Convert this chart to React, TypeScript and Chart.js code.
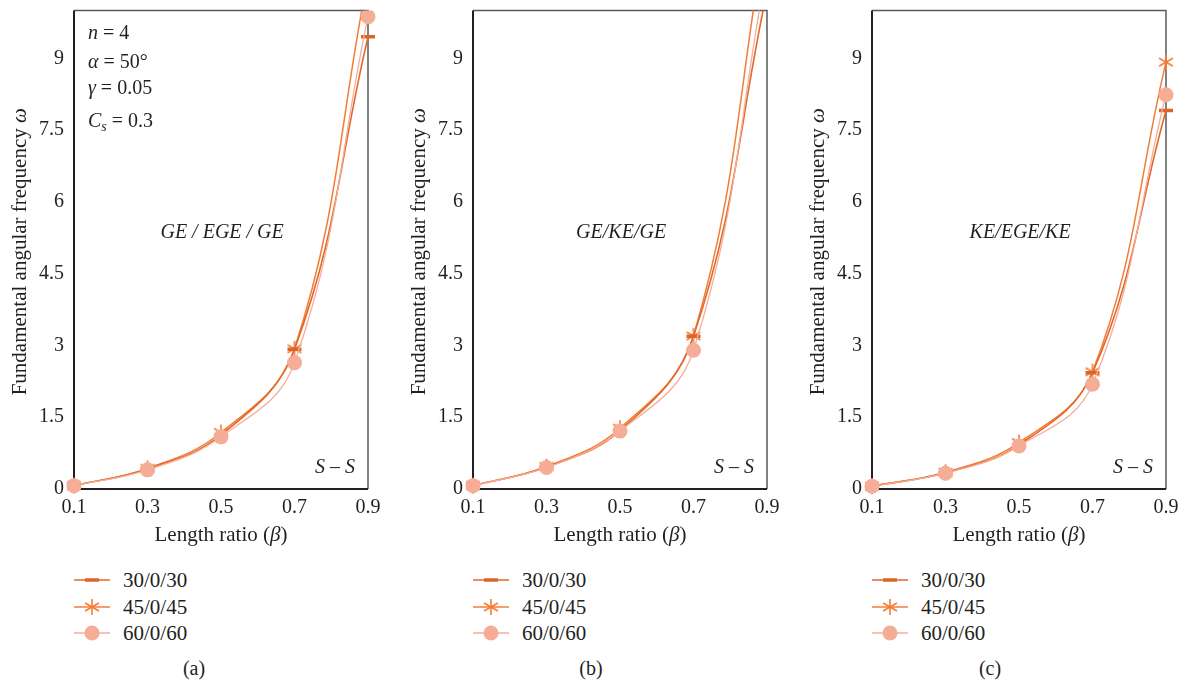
import React, { useEffect, useRef } from 'react';
import { Chart, registerables } from 'chart.js';

Chart.register(...registerables);

// ---------- data ----------
const betaValues = [0.1, 0.3, 0.5, 0.7, 0.9];
const xTicks = [0.1, 0.3, 0.5, 0.7, 0.9];
const yTicks = [0, 1.5, 3, 4.5, 6, 7.5, 9];
const seriesLabels = ['30/0/30', '45/0/45', '60/0/60'];

const a30 = [0.07, 0.42, 1.13, 2.92, 9.45];
const a45 = [0.07, 0.43, 1.18, 2.93, 10.7];
const a60 = [0.07, 0.4, 1.09, 2.64, 9.87];

const b30 = [0.07, 0.46, 1.22, 3.19, 10.4];
const b45 = [0.07, 0.47, 1.27, 3.2, 11.8];
const b60 = [0.07, 0.45, 1.21, 2.9, 10.9];

const c30 = [0.06, 0.34, 0.92, 2.43, 7.91];
const c45 = [0.06, 0.35, 0.97, 2.45, 8.92];
const c60 = [0.06, 0.33, 0.9, 2.19, 8.24];

const panelSeries = [
  [a30, a45, a60],
  [b30, b45, b60],
  [c30, c45, c60],
];
const panelMaterials = ['GE / EGE / GE', 'GE/KE/GE', 'KE/EGE/KE'];
const panelCaptions = ['(a)', '(b)', '(c)'];
const boundaryLabel = 'S – S';
// titles as runs: [text, italic, subscript]
const xTitleRuns: [string, boolean, boolean][] = [['Length ratio (', false, false], ['β', true, false], [')', false, false]];
const yTitleRuns: [string, boolean, boolean][] = [['Fundamental angular frequency ', false, false], ['ω', true, false]];
const paramLines: [string, boolean, boolean][][] = [
  [['n', true, false], [' = 4', false, false]],
  [['α', true, false], [' = 50°', false, false]],
  [['γ', true, false], [' = 0.05', false, false]],
  [['C', true, false], ['s', true, true], [' = 0.3', false, false]],
];

// ---------- styles ----------
const FONT = '"Liberation Serif", "Times New Roman", serif';
const TEXT = '#231f20';
const COLORS = ['#E2692B', '#F47C35', '#F6AD97'];
const DASH_COLOR = '#DD6427';
const PANEL_LEFT = [0, 399, 798];
const CANVAS_W = 388;
const CANVAS_H = 560;
const AXIS_W = 74;
const TICK_FS = 20;
const TITLE_FS = 21;
const NOTE_FS = 20;

function makeAsterisk(color: string) {
  const c = document.createElement('canvas');
  c.width = 18;
  c.height = 18;
  const g = c.getContext('2d')!;
  g.strokeStyle = color;
  g.lineWidth = 1.6;
  const r = 8;
  [90, 30, 150].forEach((deg) => {
    const a = (deg * Math.PI) / 180;
    g.beginPath();
    g.moveTo(9 - r * Math.cos(a), 9 - r * Math.sin(a));
    g.lineTo(9 + r * Math.cos(a), 9 + r * Math.sin(a));
    g.stroke();
  });
  return c;
}

function runsWidth(ctx: CanvasRenderingContext2D, runs: [string, boolean, boolean][], size: number) {
  let w = 0;
  runs.forEach(([t, it, sub]) => {
    const s = sub ? size * 0.7 : size;
    ctx.font = `${it ? 'italic ' : ''}${s}px ${FONT}`;
    w += ctx.measureText(t).width;
  });
  return w;
}

function drawRuns(ctx: CanvasRenderingContext2D, runs: [string, boolean, boolean][], x: number, y: number, size: number) {
  let cx = x;
  ctx.textBaseline = 'middle';
  ctx.textAlign = 'left';
  runs.forEach(([t, it, sub]) => {
    const s = sub ? size * 0.7 : size;
    ctx.font = `${it ? 'italic ' : ''}${s}px ${FONT}`;
    ctx.fillText(t, cx, sub ? y + size * 0.3 : y);
    cx += ctx.measureText(t).width;
  });
}

const framePlugin = {
  id: 'frame',
  beforeDatasetsDraw(chart: any) {
    const { ctx, chartArea: a } = chart;
    ctx.save();
    ctx.strokeStyle = '#5a5a5a';
    ctx.lineWidth = 1.5;
    ctx.beginPath();
    ctx.moveTo(a.left, a.top);
    ctx.lineTo(a.right, a.top);
    ctx.lineTo(a.right, a.bottom);
    ctx.stroke();
    ctx.strokeStyle = TEXT;
    ctx.lineWidth = 2;
    ctx.beginPath();
    ctx.moveTo(a.left, a.top);
    ctx.lineTo(a.left, a.bottom);
    ctx.lineTo(a.right, a.bottom);
    ctx.stroke();
    ctx.restore();
  },
};

function makeTextPlugin(idx: number) {
  return {
    id: 'panelText' + idx,
    afterDatasetsDraw(chart: any) {
      const { ctx, chartArea: a } = chart;
      const xs = chart.scales.x;
      const ys = chart.scales.y;
      ctx.save();
      ctx.fillStyle = TEXT;
      // axis titles
      const xw = runsWidth(ctx, xTitleRuns, TITLE_FS);
      drawRuns(ctx, xTitleRuns, (a.left + a.right) / 2 - xw / 2, 535, TITLE_FS);
      const yw = runsWidth(ctx, yTitleRuns, TITLE_FS);
      ctx.save();
      ctx.translate(20, (a.top + a.bottom) / 2 + 2);
      ctx.rotate(-Math.PI / 2);
      drawRuns(ctx, yTitleRuns, -yw / 2, 0, TITLE_FS);
      ctx.restore();
      // in-plot notes
      ctx.font = `italic ${NOTE_FS}px ${FONT}`;
      ctx.textAlign = 'center';
      ctx.textBaseline = 'middle';
      ctx.fillText(panelMaterials[idx], xs.getPixelForValue(0.503), ys.getPixelForValue(5.36));
      ctx.fillText(boundaryLabel, xs.getPixelForValue(0.81), ys.getPixelForValue(0.44));
      if (idx === 0) {
        const yv = [9.52, 8.91, 8.37, 7.68];
        paramLines.forEach((runs, i) => {
          drawRuns(ctx, runs, xs.getPixelForValue(0.138), ys.getPixelForValue(yv[i]), NOTE_FS);
        });
      }
      ctx.restore();
    },
  };
}

function Panel({ idx }: { idx: number }) {
  const ref = useRef<HTMLCanvasElement | null>(null);
  useEffect(() => {
    const canvas = ref.current!;
    const asterisk = makeAsterisk(COLORS[1]);
    const vals = panelSeries[idx];
    const clip = { left: 14, right: 14, top: 0, bottom: 14 };
    const pts = (arr: number[]) => betaValues.map((x, i) => ({ x, y: arr[i] }));
    const chart = new Chart(canvas, {
      type: 'line',
      data: {
        datasets: [
          {
            label: seriesLabels[0],
            data: pts(vals[0]),
            borderColor: COLORS[0],
            backgroundColor: COLORS[0],
            borderWidth: 1.6,
            pointStyle: 'line',
            pointRadius: 7,
            pointBorderWidth: 3.5,
            pointBorderColor: DASH_COLOR,
            pointBackgroundColor: DASH_COLOR,
            tension: 0.4,
            clip,
            order: 1,
          },
          {
            label: seriesLabels[1],
            data: pts(vals[1]),
            borderColor: COLORS[1],
            backgroundColor: COLORS[1],
            borderWidth: 1.5,
            pointStyle: asterisk as any,
            pointRadius: 8,
            tension: 0.4,
            clip,
            order: 2,
          },
          {
            label: seriesLabels[2],
            data: pts(vals[2]),
            borderColor: COLORS[2],
            backgroundColor: COLORS[2],
            borderWidth: 1.3,
            pointStyle: 'circle',
            pointRadius: 7.5,
            pointBorderWidth: 0,
            pointBackgroundColor: COLORS[2],
            tension: 0.4,
            clip,
            order: 0,
          },
        ] as any,
      },
      options: {
        responsive: false,
        animation: false,
        devicePixelRatio: 1,
        layout: { padding: { left: 0, right: CANVAS_W - 368, top: 8, bottom: 0 } },
        plugins: { legend: { display: false }, tooltip: { enabled: false } },
        scales: {
          x: {
            type: 'linear',
            min: 0.1,
            max: 0.9,
            grid: { display: false, drawTicks: false },
            border: { display: false },
            ticks: {
              padding: 7,
              color: TEXT,
              font: { family: FONT, size: TICK_FS },
              callback: (v: any) => String(Number(Number(v).toFixed(1))),
            },
            afterBuildTicks: (s: any) => {
              s.ticks = xTicks.map((v) => ({ value: v }));
            },
            afterFit: (s: any) => {
              s.height = CANVAS_H - 489;
              s.paddingLeft = 0;
              s.paddingRight = 0;
            },
          },
          y: {
            type: 'linear',
            min: 0,
            max: 10,
            grid: { display: false, drawTicks: false },
            border: { display: false },
            ticks: {
              padding: 10,
              color: TEXT,
              font: { family: FONT, size: TICK_FS },
              callback: (v: any) => String(Number(Number(v).toFixed(1))),
            },
            afterBuildTicks: (s: any) => {
              s.ticks = yTicks.map((v) => ({ value: v }));
            },
            afterFit: (s: any) => {
              s.width = AXIS_W;
              s.paddingTop = 0;
              s.paddingBottom = 0;
            },
          },
        },
      } as any,
      plugins: [framePlugin, makeTextPlugin(idx)],
    });
    return () => chart.destroy();
  }, [idx]);

  const left = PANEL_LEFT[idx];
  const legendLeft = left + AXIS_W;
  const rowY = [580, 607, 633];
  return (
    <>
      <div style={{ position: 'absolute', left, top: 0, width: CANVAS_W, height: CANVAS_H }}>
        <canvas ref={ref} width={CANVAS_W} height={CANVAS_H} style={{ width: CANVAS_W, height: CANVAS_H, display: 'block' }} />
      </div>
      {seriesLabels.map((lab, i) => (
        <div
          key={lab}
          style={{
            position: 'absolute',
            left: legendLeft,
            top: rowY[i] - 12,
            height: 24,
            display: 'flex',
            alignItems: 'center',
            fontFamily: FONT,
            fontSize: 21,
            color: TEXT,
            whiteSpace: 'nowrap',
          }}
        >
          <svg width={36} height={20} style={{ display: 'block' }}>
            <line x1={0} y1={10} x2={36} y2={10} stroke={COLORS[i]} strokeWidth={1.6} />
            {i === 0 && <line x1={11} y1={10} x2={25} y2={10} stroke={DASH_COLOR} strokeWidth={3.5} />}
            {i === 1 &&
              [90, 30, 150].map((deg) => {
                const a = (deg * Math.PI) / 180;
                return (
                  <line
                    key={deg}
                    x1={18 - 8 * Math.cos(a)}
                    y1={10 - 8 * Math.sin(a)}
                    x2={18 + 8 * Math.cos(a)}
                    y2={10 + 8 * Math.sin(a)}
                    stroke={COLORS[1]}
                    strokeWidth={1.6}
                  />
                );
              })}
            {i === 2 && <circle cx={18} cy={10} r={7.5} fill={COLORS[2]} />}
          </svg>
          <span style={{ marginLeft: 13 }}>{lab}</span>
        </div>
      ))}
      <div
        style={{
          position: 'absolute',
          left: left + 195 - 60 - (idx === 0 ? 1 : 3),
          width: 120,
          top: 657,
          textAlign: 'center',
          fontFamily: FONT,
          fontSize: 20,
          color: TEXT,
        }}
      >
        {panelCaptions[idx]}
      </div>
    </>
  );
}

export default function App() {
  return (
    <div style={{ position: 'absolute', left: 0, top: 0, width: 1186, height: 686, background: '#fff', overflow: 'hidden' }}>
      {[0, 1, 2].map((i) => (
        <Panel key={i} idx={i} />
      ))}
    </div>
  );
}
